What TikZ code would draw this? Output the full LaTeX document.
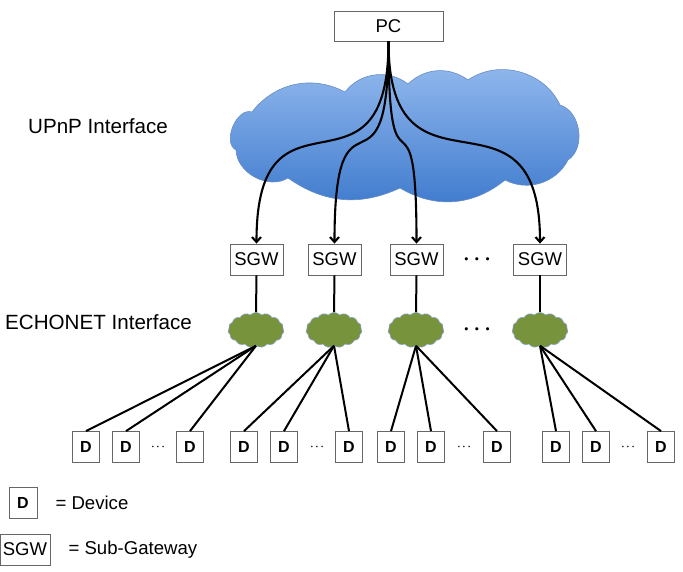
\documentclass[tikz,border=0pt]{standalone}
\usepackage{fontspec}
\setmainfont{Liberation Sans}
\usetikzlibrary{shapes.symbols,arrows.meta}

\definecolor{skytop}{RGB}{148,186,238}
\definecolor{skybottom}{RGB}{62,122,205}
\definecolor{skyedge}{RGB}{100,140,200}
\definecolor{moss}{RGB}{119,147,60}
\definecolor{mossedge}{RGB}{140,165,200}

\begin{document}
\begin{tikzpicture}[x=1pt,y=-1pt,
  box/.style={draw=black!60, line width=0.8pt, inner sep=0pt, minimum height=31,
    font=\fontsize{18.5}{20}\selectfont},
  dev/.style={draw=black!60, line width=0.8pt, inner sep=0pt, minimum width=27,
    minimum height=31, font=\fontsize{16}{18}\selectfont\bfseries},
  bus/.style={draw=mossedge, fill=moss, line width=0.6pt, cloud, cloud puffs=15,
    cloud puff arc=95, aspect=1.6, minimum width=56, minimum height=35, inner sep=0pt},
  wire/.style={line width=2pt},
  link/.style={line width=2.1pt, -{Straight Barb[length=5pt,width=9pt]}},
  label/.style={font=\fontsize{20.6}{22}\selectfont},
  legend/.style={anchor=west, font=\fontsize{18.6}{20}\selectfont},
  more/.style={font=\fontsize{22}{22}\selectfont\boldmath},
  less/.style={font=\boldmath}]
\useasboundingbox (0,0) rectangle (683,571);

% UPnP cloud
\shade[top color=skytop, bottom color=skybottom, draw=skyedge, line width=0.6pt]
  (236,150) to[bend left=85] (252,112) to[bend left=40] (345,92)
  to[bend left=45] (408,84) to[bend left=40] (468,80) to[bend left=50] (560,105)
  to[bend left=65] (568,160) to[bend left=45] (505,180) to[bend left=35] (400,188)
  to[bend left=30] (288,178) to[bend left=60] cycle;

\node[box, minimum width=109, minimum height=30] (pc) at (388.5,26) {PC};

\node[label] (upnp) at (98,126) {UPnP Interface};
\node[label] (echo) at (98.5,322) {ECHONET Interface};

\node[box, minimum width=53] (sgw1) at (256.5,259.5) {SGW};
\node[box, minimum width=53] (sgw2) at (334.5,259.5) {SGW};
\node[box, minimum width=53] (sgw3) at (416.5,259.5) {SGW};
\node[box, minimum width=53] (sgw4) at (540,259.5) {SGW};
\node[more] (dots1) at (477,260) {$\cdots$};

\node[bus] (bus1) at (256,330) {};
\node[bus] (bus2) at (334,330) {};
\node[bus] (bus3) at (416,330) {};
\node[bus] (bus4) at (540,330) {};
\node[more] (dots2) at (477,330) {$\cdots$};

\node[dev] (d1) at (86,447) {D};
\node[dev] (d2) at (126,447) {D};
\node[dev] (d3) at (190,447) {D};
\node[dev] (d4) at (244,447) {D};
\node[dev] (d5) at (284,447) {D};
\node[dev] (d6) at (349,447) {D};
\node[dev] (d7) at (391,447) {D};
\node[dev] (d8) at (431,447) {D};
\node[dev] (d9) at (497,447) {D};
\node[dev] (d10) at (556,447) {D};
\node[dev] (d11) at (596,447) {D};
\node[dev] (d12) at (661,447) {D};

\node[less] (m1) at (158,447) {$\cdots$};
\node[less] (m2) at (317,447) {$\cdots$};
\node[less] (m3) at (464,447) {$\cdots$};
\node[less] (m4) at (628,447) {$\cdots$};

% legend
\node[dev, minimum width=28] (keyd) at (23,502.5) {D};
\node[legend] (keydtxt) at (52,503) {= Device};
\node[box, minimum width=50] (keysgw) at (25,549.5) {SGW};
\node[legend] (keysgwtxt) at (65,550) {= Sub-Gateway};

\draw[link] (pc.south) .. controls +(0,175) and +(0,-175) .. (sgw1.north);
\draw[link] (pc.south) .. controls +(0,175) and +(0,-175) .. (sgw2.north);
\draw[link] (pc.south) .. controls +(0,175) and +(0,-175) .. (sgw3.north);
\draw[link] (pc.south) .. controls +(0,175) and +(0,-175) .. (sgw4.north);

\draw[wire] (sgw1.south) -- (bus1.north);
\draw[wire] (sgw2.south) -- (bus2.north);
\draw[wire] (sgw3.south) -- (bus3.north);
\draw[wire] (sgw4.south) -- (bus4.north);

\draw[wire] (bus1.south) -- (d1.north);
\draw[wire] (bus1.south) -- (d2.north);
\draw[wire] (bus1.south) -- (d3.north);
\draw[wire] (bus2.south) -- (d4.north);
\draw[wire] (bus2.south) -- (d5.north);
\draw[wire] (bus2.south) -- (d6.north);
\draw[wire] (bus3.south) -- (d7.north);
\draw[wire] (bus3.south) -- (d8.north);
\draw[wire] (bus3.south) -- (d9.north);
\draw[wire] (bus4.south) -- (d10.north);
\draw[wire] (bus4.south) -- (d11.north);
\draw[wire] (bus4.south) -- (d12.north);
\end{tikzpicture}
\end{document}
